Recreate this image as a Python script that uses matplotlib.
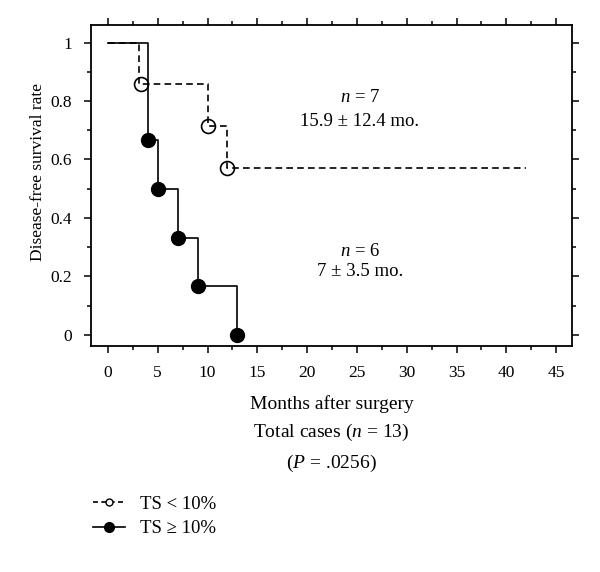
import matplotlib
matplotlib.use("Agg")
import matplotlib.pyplot as plt
from matplotlib.lines import Line2D
from matplotlib.ticker import MultipleLocator

plt.rcParams['font.family'] = ['Liberation Serif', 'DejaVu Serif']
plt.rcParams['mathtext.fontset'] = 'custom'
plt.rcParams['mathtext.rm'] = 'Liberation Serif'
plt.rcParams['mathtext.it'] = 'Liberation Serif:italic'

# Data: TS < 10% (n = 7)
low_step_x = [0, 3.1, 10, 12, 42]
low_step_y = [1.0, 0.857, 0.714, 0.571, 0.571]
low_mark_x = [3.3, 10, 12]
low_mark_y = [0.857, 0.714, 0.571]

# Data: TS >= 10% (n = 6)
high_step_x = [0, 4, 5, 7, 9, 13]
high_step_y = [1.0, 0.667, 0.5, 0.333, 0.167, 0.0]
high_mark_x = [4, 5, 7, 9, 13]
high_mark_y = [0.667, 0.5, 0.333, 0.167, 0.0]

xticks = [0, 5, 10, 15, 20, 25, 30, 35, 40, 45]
yticks = [0, 0.2, 0.4, 0.6, 0.8, 1]
ytick_labels = ['0', '0.2', '0.4', '0.6', '0.8', '1']

fig = plt.figure(figsize=(6.0, 5.72), dpi=100)
ax = fig.add_axes([0.1517, 0.3951, 0.8017, 0.5612])

ax.step(low_step_x, low_step_y, where='post', color='black', lw=1.2,
        linestyle=(0, (4, 2.5)))
ax.plot(low_mark_x, low_mark_y, 'o', ms=10, mfc='none', mec='black', mew=1.2,
        zorder=3)
ax.step(high_step_x, high_step_y, where='post', color='black', lw=1.2)
ax.plot(high_mark_x, high_mark_y, 'o', ms=10, mfc='black', mec='black', zorder=3)

ax.set_xlim(-1.7, 46.6)
ax.set_ylim(-0.038, 1.06)
ax.set_xticks(xticks)
ax.set_yticks(yticks)
ax.set_yticklabels(ytick_labels)
ax.xaxis.set_minor_locator(MultipleLocator(2.5))
ax.yaxis.set_minor_locator(MultipleLocator(0.1))
ax.tick_params(which='both', direction='out', top=True, right=True,
               labeltop=False, labelright=False, width=1.1, labelsize=12.5)
ax.tick_params(which='major', length=5)
ax.tick_params(which='minor', length=3)
ax.tick_params(axis='x', which='major', pad=8.5)
ax.tick_params(axis='y', which='major', pad=8.5)
for s in ax.spines.values():
    s.set_linewidth(1.3)

ax.set_ylabel('Disease-free survival rate', fontsize=12.5)
ax.yaxis.set_label_coords(-0.094, 0.542)
ax.set_xlabel('Months after surgery\nTotal cases ($n$ = 13)\n($P$ = .0256)',
              fontsize=14, linespacing=1.65, labelpad=10)

ax.text(25.3, 0.811, '$n$ = 7', ha='center', va='center', fontsize=13.5)
ax.text(25.3, 0.729, '15.9 ± 12.4 mo.', ha='center', va='center', fontsize=13.5)
ax.text(25.3, 0.284, '$n$ = 6', ha='center', va='center', fontsize=13.5)
ax.text(25.3, 0.2155, '7 ± 3.5 mo.', ha='center', va='center', fontsize=13.5)

handles = [
    Line2D([], [], color='black', lw=1.2, linestyle=(0, (3, 2)), marker='o',
           ms=5, mfc='white', mec='black'),
    Line2D([], [], color='black', lw=1.2, marker='o', ms=7, mfc='black',
           mec='black'),
]
fig.legend(handles, ['TS < 10%', 'TS ≥ 10%'], loc='center left',
           bbox_to_anchor=(0.155, 0.097), frameon=False, fontsize=13.5,
           handlelength=1.7, handletextpad=0.8, labelspacing=0.4,
           borderpad=0, borderaxespad=0)

fig.savefig('out.png', dpi=100)
